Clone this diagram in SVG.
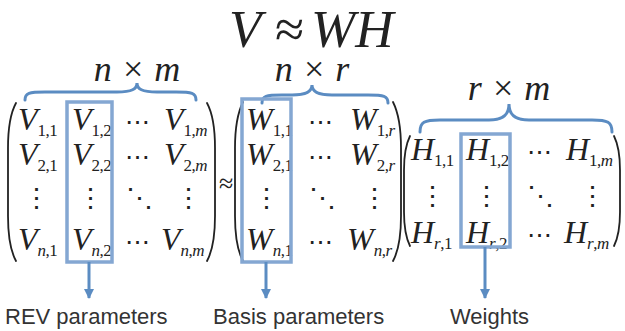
<svg xmlns="http://www.w3.org/2000/svg" width="625" height="331" viewBox="0 0 625 331">
<defs>
<style>
.m{font-family:"Liberation Serif","Times New Roman",serif;font-style:italic;font-size:32px;fill:#222}
.s{font-size:17px;font-style:normal;letter-spacing:-0.5px}
.si{font-style:italic}
.h{font-family:"DejaVu Serif",serif;font-size:25px;fill:#222;font-style:normal;text-anchor:middle}
.v{font-family:"DejaVu Serif",serif;font-size:27px;fill:#222;font-style:normal;text-anchor:middle}
.brace{fill:none;stroke:#5b8cc2;stroke-width:3;stroke-linecap:round}
.box{fill:none;stroke:#84a7d2;stroke-width:3.5}
.arr{fill:none;stroke:#5b8cc2;stroke-width:3}
.par{fill:none;stroke:#222;stroke-width:1.8;stroke-linecap:round}
.lbl{font-family:"Liberation Sans",Arial,sans-serif;font-size:22px;fill:#333}
.dim{font-family:"Liberation Serif","Times New Roman",serif;font-style:italic;font-size:36px;fill:#222;text-anchor:middle}
</style>
<marker id="ah" viewBox="0 0 10 10" refX="9" refY="5" markerWidth="3.4" markerHeight="3.4" orient="auto" markerUnits="strokeWidth">
<path d="M0,0 L10,5 L0,10 Z" fill="#5b8cc2"/>
</marker>
</defs>
<rect width="625" height="331" fill="#fff"/>

<g id="title">
<text class="m" style="font-size:53px" y="47"><tspan x="229">V</tspan><tspan x="275" font-style="normal">≈</tspan><tspan x="311">WH</tspan></text>
</g>

<g id="dims">
<text class="dim" x="137" y="81">n × m</text>
<text class="dim" x="312" y="81">n × r</text>
<text class="dim" x="509" y="100">r × m</text>
</g>

<g id="braces">
<path class="brace" d="M25,100 C25,93 29,92 45,92 L117,92 C132,92 137,89 137,83 C137,89 142,92 157,92 L176,92 C192,92 196,93 196,100"/>
<path class="brace" d="M262,103 C262,96 266,95 282,95 L292,95 C307,95 312,91 312,85 C312,91 317,95 332,95 L368,95 C384,95 388,96 388,103"/>
<path class="brace" d="M420,132 C420,122 424,120 440,120 L489,120 C504,120 509,114 509,104 C509,114 514,120 529,120 L592,120 C608,120 612,122 612,132"/>
</g>

<g id="matrixV">
<path class="par" d="M16,103 C10,114 8,130 8,148 L8,216 C8,234 10,250 16,261"/>
<path class="par" d="M207,103 C213,114 215,130 215,148 L215,216 C215,234 213,250 207,261"/>
<text class="m" x="18" y="130">V<tspan class="s" dy="6">1,1</tspan></text>
<text class="m" x="72" y="130">V<tspan class="s" dy="6">1,2</tspan></text>
<text class="h" x="137" y="130">⋯</text>
<text class="m" x="164" y="130">V<tspan class="s" dy="6">1,<tspan class="si">m</tspan></tspan></text>
<text class="m" x="18" y="165">V<tspan class="s" dy="6">2,1</tspan></text>
<text class="m" x="72" y="165">V<tspan class="s" dy="6">2,2</tspan></text>
<text class="h" x="137" y="165">⋯</text>
<text class="m" x="164" y="165">V<tspan class="s" dy="6">2,<tspan class="si">m</tspan></tspan></text>
<text class="v" x="36" y="207">⋮</text>
<text class="v" x="90" y="207">⋮</text>
<text class="v" x="139" y="207">⋱</text>
<text class="v" x="188" y="207">⋮</text>
<text class="m" x="18" y="250">V<tspan class="s" dy="6"><tspan class="si">n</tspan>,1</tspan></text>
<text class="m" x="72" y="250">V<tspan class="s" dy="6"><tspan class="si">n</tspan>,2</tspan></text>
<text class="h" x="137" y="250">⋯</text>
<text class="m" x="161" y="250">V<tspan class="s" dy="6"><tspan class="si">n</tspan>,<tspan class="si">m</tspan></tspan></text>
</g>

<g id="approx">
<text x="219" y="192" style="font-family:'Liberation Serif',serif;font-size:26px;fill:#222">≈</text>
</g>

<g id="matrixW">
<path class="par" d="M243,102 C237,114 235,130 235,148 L235,216 C235,234 237,250 243,261"/>
<path class="par" d="M393,102 C399,114 401,130 401,148 L401,216 C401,234 399,250 393,261"/>
<text class="m" x="246" y="130">W<tspan class="s" dy="6">1,1</tspan></text>
<text class="h" x="320" y="130">⋯</text>
<text class="m" x="350" y="130">W<tspan class="s" dy="6">1,<tspan class="si">r</tspan></tspan></text>
<text class="m" x="246" y="165">W<tspan class="s" dy="6">2,1</tspan></text>
<text class="h" x="320" y="165">⋯</text>
<text class="m" x="350" y="165">W<tspan class="s" dy="6">2,<tspan class="si">r</tspan></tspan></text>
<text class="v" x="266" y="207">⋮</text>
<text class="v" x="322" y="207">⋱</text>
<text class="v" x="374" y="207">⋮</text>
<text class="m" x="246" y="250">W<tspan class="s" dy="6"><tspan class="si">n</tspan>,1</tspan></text>
<text class="h" x="320" y="250">⋯</text>
<text class="m" x="347" y="250">W<tspan class="s" dy="6"><tspan class="si">n</tspan>,<tspan class="si">r</tspan></tspan></text>
</g>

<g id="matrixH">
<path class="par" d="M410,136 C405,146 404,158 404,170 L404,212 C404,224 405,236 410,246"/>
<path class="par" d="M614,136 C619,146 620,158 620,170 L620,212 C620,224 619,236 614,246"/>
<text class="m" x="411" y="160">H<tspan class="s" dy="6">1,1</tspan></text>
<text class="m" x="466" y="160">H<tspan class="s" dy="6">1,2</tspan></text>
<text class="h" x="539" y="160">⋯</text>
<text class="m" x="566" y="160">H<tspan class="s" dy="6">1,<tspan class="si">m</tspan></tspan></text>
<text class="v" x="432" y="205">⋮</text>
<text class="v" x="486" y="205">⋮</text>
<text class="v" x="540" y="205">⋱</text>
<text class="v" x="592" y="205">⋮</text>
<text class="m" x="411" y="243">H<tspan class="s" dy="6"><tspan class="si">r</tspan>,1</tspan></text>
<text class="m" x="466" y="243">H<tspan class="s" dy="6"><tspan class="si">r</tspan>,2</tspan></text>
<text class="h" x="539" y="243">⋯</text>
<text class="m" x="564" y="243">H<tspan class="s" dy="6"><tspan class="si">r</tspan>,<tspan class="si">m</tspan></tspan></text>
</g>

<g id="boxes">
<rect id="box-rev" class="box" x="67" y="102" width="45" height="160"/>
<rect id="box-basis" class="box" x="242" y="99" width="49" height="163"/>
<rect id="box-weights" class="box" x="461" y="134" width="49" height="113"/>
</g>

<g id="connectors">
<line class="arr" x1="89" y1="262" x2="89" y2="298" marker-end="url(#ah)"/>
<line class="arr" x1="266" y1="262" x2="266" y2="298" marker-end="url(#ah)"/>
<line class="arr" x1="485" y1="247" x2="485" y2="298" marker-end="url(#ah)"/>
</g>

<g id="labels">
<text class="lbl" x="5" y="324">REV parameters</text>
<text class="lbl" x="213" y="324">Basis parameters</text>
<text class="lbl" x="450" y="324">Weights</text>
</g>
</svg>
